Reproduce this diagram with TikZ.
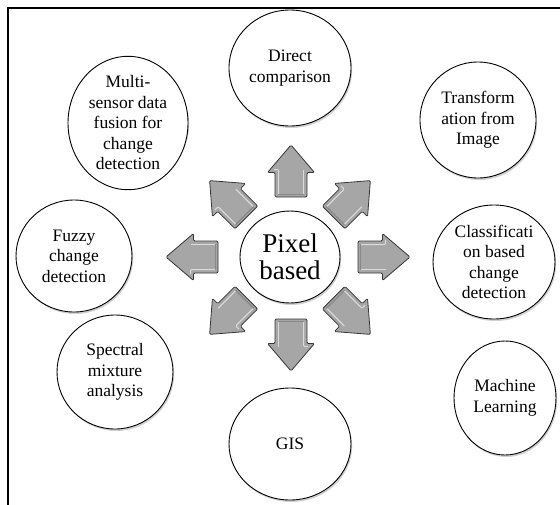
\documentclass[tikz,border=0pt]{standalone}
\usepackage{fontspec}
\setmainfont{Liberation Serif}
\usetikzlibrary{shapes.geometric,calc}

\definecolor{arrowgrey}{RGB}{166,166,166}
\definecolor{arrowedge}{RGB}{55,55,55}

\tikzset{
  bubble/.style={ellipse, draw=black, line width=0.9pt, fill=white,
    inner sep=0pt, align=center, font=\fontsize{17.5}{20.5}\selectfont},
  hub/.style={bubble, font=\fontsize{27}{27}\selectfont},
  bubbleshadow/.style={fill=black, opacity=0.18},
  arrowbody/.style={fill=arrowgrey, draw=arrowedge, line width=0.8pt,
    line join=round, rounded corners=1.2pt},
  arrowgloss/.style={draw=white, opacity=0.6, line width=1pt,
    rounded corners=1pt},
  arrowshade/.style={draw=black, opacity=0.18, line width=1.2pt},
  frameline/.style={draw=black, line width=2pt}
}

% block arrow: name, centre, direction (degrees)
\newcommand\blockarrow[3]{%
  \begin{scope}[shift={#2}, rotate=#3]
    \coordinate (#1) at (0,0);
    \path[arrowbody] (-26,-16) -- (-1.5,-16) -- (-1.5,-23.5) -- (26,0)
      -- (-1.5,23.5) -- (-1.5,16) -- (-26,16) -- cycle;
    \path[arrowgloss] (-23,-12.5) -- (1.5,-12.5) -- (1.5,-17);
    \path[arrowgloss] (-23,12.5) -- (1.5,12.5);
    \path[arrowshade] (-23.5,-13) -- (-23.5,13);
  \end{scope}}

% ellipse with a faint shadow underneath
\newcommand\bubblenode[5]{%
  \fill[bubbleshadow] ($#2+(1.2,2)$) ellipse [x radius=#3, y radius=#4];
  \node[bubble, minimum width=2*#3 pt, minimum height=2*#4 pt] (#1) at #2 {#5};}

\begin{document}
\begin{tikzpicture}[x=1pt, y=-1pt]
  \useasboundingbox (0,0) rectangle (560,504);
  \fill[white] (0,0) rectangle (560,504);

  % frame, running off the right and bottom edges
  \begin{scope}
    \clip (0,0) rectangle (560,504);
    \path[frameline] (8,8) rectangle (570,514);
  \end{scope}

  % outer topics
  \bubblenode{direct}{(290,68)}{61}{58}{Direct\\comparison}
  \bubblenode{multi}{(128,123)}{60}{58}{Multi-\\sensor data\\fusion for\\change\\detection}
  \bubblenode{transf}{(478,120)}{58}{58}{Transform\\ation from\\Image}
  \bubblenode{fuzzy}{(74,256)}{58}{56}{Fuzzy\\change\\detection}
  \bubblenode{classif}{(494,262)}{61}{57}{Classificati\\on based\\change\\detection}
  \bubblenode{spectral}{(115,372)}{58}{57}{Spectral\\mixture\\analysis}
  \bubblenode{machine}{(505,398)}{51}{57}{Machine\\Learning}
  \bubblenode{gis}{(290,444)}{61}{56}{GIS}

  % central topic
  \fill[bubbleshadow] (291.2,259) ellipse [x radius=50, y radius=46];
  \node[hub, minimum width=100pt, minimum height=92pt] (pixel) at (290,257) {Pixel\\based};

  % arrows radiating from the centre
  \blockarrow{aN}{(291,171)}{90}
  \blockarrow{aNE}{(352,199)}{45}
  \blockarrow{aE}{(384,257)}{0}
  \blockarrow{aSE}{(352,316)}{-45}
  \blockarrow{aS}{(291,345)}{-90}
  \blockarrow{aSW}{(228,316)}{-135}
  \blockarrow{aW}{(192,257)}{180}
  \blockarrow{aNW}{(228,199)}{135}
\end{tikzpicture}
\end{document}
